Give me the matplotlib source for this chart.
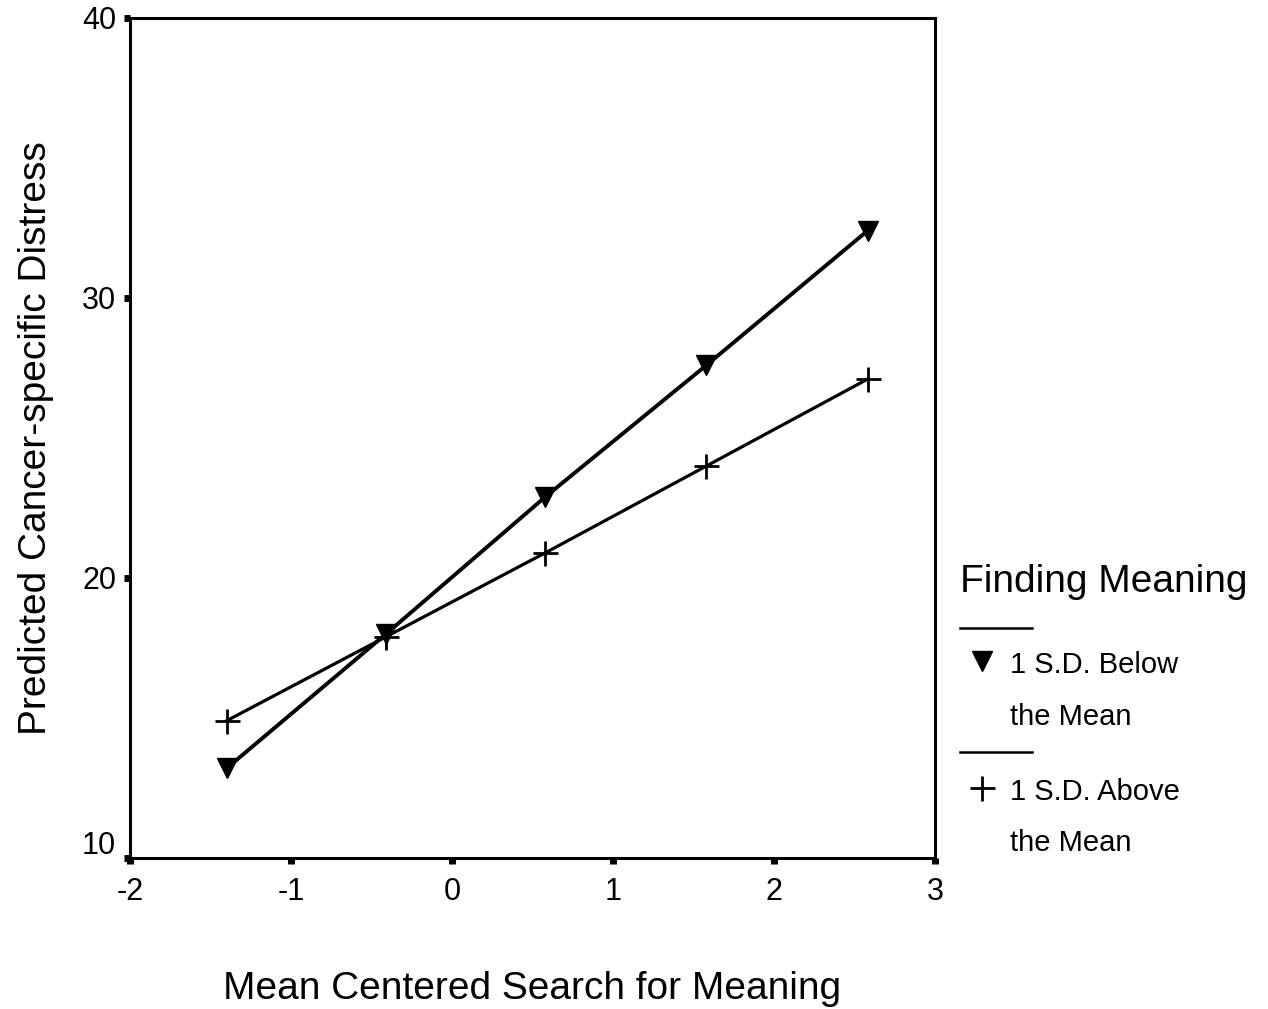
import matplotlib.pyplot as plt
import matplotlib.transforms as mtransforms
from matplotlib.lines import Line2D

plt.rcParams['font.family'] = ['Liberation Sans', 'DejaVu Sans']

# mean centered search for meaning
x_vals = [-1.40, -0.41, 0.58, 1.58, 2.58]
# predicted distress, finding meaning 1 SD below / above the mean
below_vals = [13.2, 18.0, 22.9, 27.6, 32.4]
above_vals = [14.9, 17.9, 20.9, 24.0, 27.1]

x_ticks = [-2, -1, 0, 1, 2, 3]
y_ticks = [10, 20, 30, 40]

fig = plt.figure(figsize=(12.68, 10.09), dpi=100)
ax = fig.add_axes([0.1025, 0.1497, 0.635, 0.8325])

ax.plot(x_vals, below_vals, color='black', lw=2.8, marker='v', ms=15,
        clip_on=False, zorder=3)
ax.plot(x_vals, above_vals, color='black', lw=2.3, marker='+', ms=18,
        mew=2, clip_on=False, zorder=3)

ax.set_xlim(-2, 3)
ax.set_ylim(10, 40)
ax.set_xticks(x_ticks)
ax.set_yticks(y_ticks)
ax.set_xticklabels([str(t) for t in x_ticks])
ax.tick_params(direction='out', length=4, width=5, labelsize=22)
ax.tick_params(axis='x', pad=10)
ax.tick_params(axis='y', pad=6)
for sp in ax.spines.values():
    sp.set_linewidth(2.2)

# the bottom y label sits a little higher so it clears the x labels
lab10 = ax.get_yticklabels()[0]
lab10.set_transform(lab10.get_transform() +
                    mtransforms.ScaledTranslation(0, 0.15, fig.dpi_scale_trans))

ax.set_xlabel('Mean Centered Search for Meaning', fontsize=28, labelpad=46)
ax.set_ylabel('Predicted Cancer-specific Distress', fontsize=28, labelpad=20)

# legend drawn by hand in figure coords
fig.text(960 / 1268, 1 - 582 / 1009, 'Finding Meaning', fontsize=28,
         va='center', ha='left')
for yy in (628, 752):
    fig.add_artist(Line2D([960 / 1268, 1032 / 1268], [1 - yy / 1009] * 2,
                          color='black', lw=1.8))
fig.add_artist(Line2D([982 / 1268], [1 - 661 / 1009], marker='v', ms=15,
                      color='black', ls='none'))
fig.add_artist(Line2D([982 / 1268], [1 - 788 / 1009], marker='+', ms=18,
                      mew=2, color='black', ls='none'))
for txt, yy in [('1 S.D. Below', 665), ('the Mean', 717),
                ('1 S.D. Above', 792), ('the Mean', 843)]:
    fig.text(1010 / 1268, 1 - yy / 1009, txt, fontsize=21, va='center', ha='left')

fig.savefig('out.png', dpi=100)
